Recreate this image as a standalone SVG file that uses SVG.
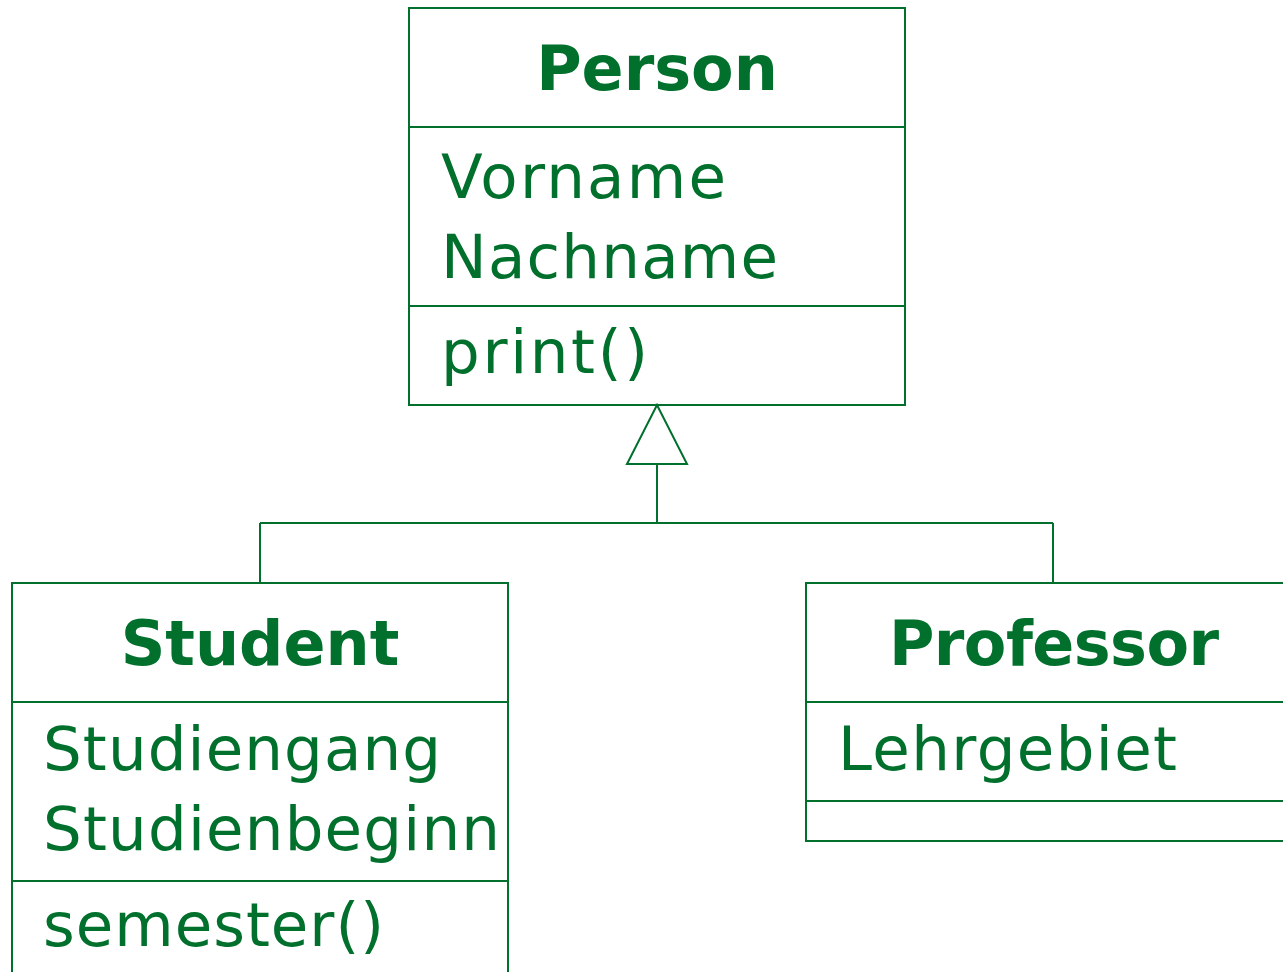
<svg xmlns="http://www.w3.org/2000/svg" width="1283" height="972" viewBox="0 0 1283 972">
<style>
.ln{stroke:#00702c;stroke-width:2;fill:none}
.t{font-family:"DejaVu Sans","Liberation Sans",sans-serif;font-size:61px;fill:#00702c}
.h{font-family:"DejaVu Sans","Liberation Sans",sans-serif;font-size:62px;font-weight:bold;fill:#00702c;text-anchor:middle}
</style>
<rect width="1283" height="972" fill="#fff"/>
<g id="person">
<rect class="ln" x="409" y="8" width="496" height="397"/>
<line class="ln" x1="409" y1="127" x2="905" y2="127"/>
<line class="ln" x1="409" y1="306" x2="905" y2="306"/>
<text class="h" x="657" y="90">Person</text>
<text class="t" x="441" y="198" textLength="285" lengthAdjust="spacing">Vorname</text>
<text class="t" x="441" y="278" textLength="337" lengthAdjust="spacing">Nachname</text>
<text class="t" x="441" y="373" textLength="207" lengthAdjust="spacing">print()</text>
</g>
<g id="student">
<rect class="ln" x="12" y="583" width="496" height="420"/>
<line class="ln" x1="12" y1="702" x2="508" y2="702"/>
<line class="ln" x1="12" y1="881" x2="508" y2="881"/>
<text class="h" x="260" y="665">Student</text>
<text class="t" x="43" y="770" textLength="398" lengthAdjust="spacing">Studiengang</text>
<text class="t" x="43" y="850" textLength="457" lengthAdjust="spacing">Studienbeginn</text>
<text class="t" x="43" y="946" textLength="341" lengthAdjust="spacing">semester()</text>
</g>
<g id="professor">
<rect class="ln" x="806" y="583" width="496" height="258"/>
<line class="ln" x1="806" y1="702" x2="1302" y2="702"/>
<line class="ln" x1="806" y1="801" x2="1302" y2="801"/>
<text class="h" x="1054" y="665" textLength="330" lengthAdjust="spacing">Professor</text>
<text class="t" x="838" y="770" textLength="339" lengthAdjust="spacing">Lehrgebiet</text>
</g>
<g id="connectors">
<polygon class="ln" points="657,405 627,464 687,464"/>
<line class="ln" x1="657" y1="464" x2="657" y2="523"/>
<line class="ln" x1="260" y1="523" x2="1053" y2="523"/>
<line class="ln" x1="260" y1="523" x2="260" y2="583"/>
<line class="ln" x1="1053" y1="523" x2="1053" y2="583"/>
</g>
</svg>
